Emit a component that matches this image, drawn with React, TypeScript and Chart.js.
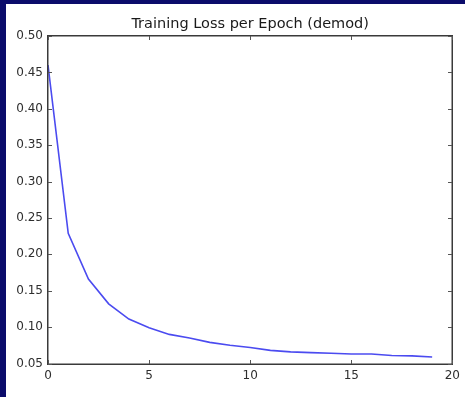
import React, { useEffect, useRef } from "react";
import { Chart, registerables } from "chart.js";

Chart.register(...registerables);

const epochs = [0, 1, 2, 3, 4, 5, 6, 7, 8, 9, 10, 11, 12, 13, 14, 15, 16, 17, 18, 19];
const losses = [0.46, 0.229, 0.166, 0.132, 0.111, 0.099, 0.09, 0.085, 0.079, 0.075, 0.072, 0.068, 0.066, 0.065, 0.064, 0.063, 0.063, 0.061, 0.0605, 0.059];
const titleText = "Training Loss per Epoch (demod)";
const xTicks = [0, 5, 10, 15, 20];
const yTicks = [0.05, 0.1, 0.15, 0.2, 0.25, 0.3, 0.35, 0.4, 0.45, 0.5];

const framePlugin = {
  id: "framePlugin",
  afterDraw(chart: any) {
    const ctx = chart.ctx;
    const a = chart.chartArea;
    const xs = chart.scales.x;
    const ys = chart.scales.y;
    const l = Math.round(a.left);
    const r = Math.round(a.right);
    const t = Math.round(a.top);
    const b = Math.round(a.bottom);
    ctx.save();
    ctx.globalAlpha = 1;
    ctx.fillStyle = "#3a3a3a";
    ctx.fillRect(l - 1, t - 1, r - l + 2, 1.5);
    ctx.fillRect(l - 1, b - 0.5, r - l + 2, 1.5);
    ctx.fillRect(l - 1, t - 1, 1.5, b - t + 1.5);
    ctx.fillRect(r - 0.5, t - 1, 1.5, b - t + 1.5);
    ctx.fillStyle = "#555555";
    const L = 4;
    for (const v of xTicks) {
      const px = Math.round(xs.getPixelForValue(v));
      ctx.fillRect(px, b - L, 1, L);
      ctx.fillRect(px, t, 1, L);
    }
    for (const v of yTicks) {
      const py = Math.round(ys.getPixelForValue(v));
      ctx.fillRect(l, py, L, 1);
      ctx.fillRect(r - L, py, L, 1);
    }
    ctx.fillStyle = "#1a1a1a";
    ctx.font = "14.5px 'DejaVu Sans'";
    ctx.textAlign = "center";
    ctx.textBaseline = "alphabetic";
    ctx.fillText(titleText, (a.left + a.right) / 2, 24);
    ctx.restore();
  },
};

export default function App() {
  const ref = useRef<HTMLCanvasElement | null>(null);
  useEffect(() => {
    document.body.style.margin = "0";
    const canvas = ref.current;
    if (!canvas) return;
    const chart = new Chart(canvas, {
      type: "line",
      data: {
        datasets: [
          {
            data: epochs.map((e, i) => ({ x: e, y: losses[i] })),
            borderColor: "rgba(50,50,238,0.88)",
            borderWidth: 1.6,
            pointRadius: 0,
            tension: 0,
            fill: false,
          },
        ],
      },
      options: {
        animation: false,
        responsive: false,
        maintainAspectRatio: false,
        layout: { padding: { top: 32, left: 0, right: 10, bottom: 0 } },
        plugins: { legend: { display: false }, title: { display: false }, tooltip: { enabled: false } },
        scales: {
          x: {
            type: "linear",
            min: 0,
            max: 20,
            afterBuildTicks: (s: any) => {
              s.ticks = xTicks.map((v) => ({ value: v }));
            },
            afterFit: (s: any) => {
              s.height = 33.5;
            },
            grid: { display: false, drawTicks: false },
            border: { display: false },
            ticks: { color: "#2e2e2e", font: { family: "DejaVu Sans", size: 12 }, padding: 5, maxRotation: 0 },
          },
          y: {
            type: "linear",
            min: 0.05,
            max: 0.5,
            afterBuildTicks: (s: any) => {
              s.ticks = yTicks.map((v) => ({ value: v }));
            },
            afterFit: (s: any) => {
              s.width = 42;
            },
            grid: { display: false, drawTicks: false },
            border: { display: false },
            ticks: {
              color: "#2e2e2e",
              font: { family: "DejaVu Sans", size: 12 },
              padding: 5,
              callback: (v: any) => Number(v).toFixed(2),
            },
          },
        },
      },
      plugins: [framePlugin],
    });
    return () => chart.destroy();
  }, []);
  return (
    <div style={{ width: 465, height: 397, background: "#0b0c6b", position: "relative", overflow: "hidden" }}>
      <canvas
        ref={ref}
        width={459}
        height={393}
        style={{ position: "absolute", left: 6, top: 4, width: 459, height: 393, background: "#fff" }}
      />
    </div>
  );
}
